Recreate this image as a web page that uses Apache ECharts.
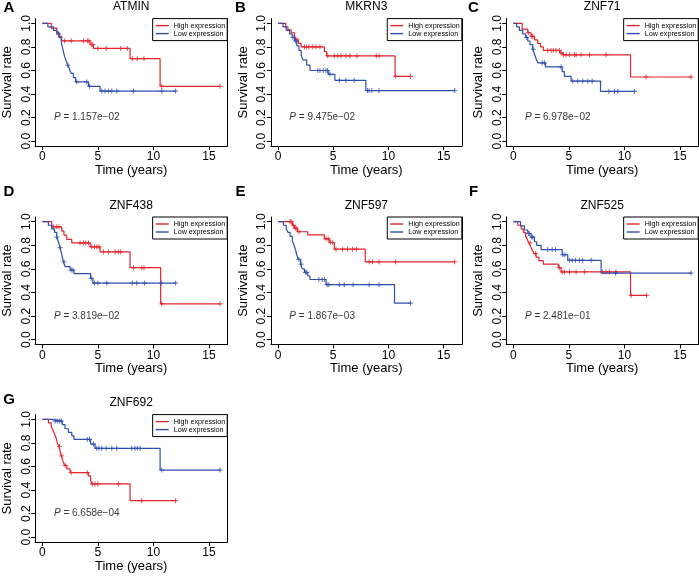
<!DOCTYPE html>
<html><head><meta charset="utf-8">
<script src="https://cdn.jsdelivr.net/npm/echarts@6/dist/echarts.min.js"></script>
<style>html,body{margin:0;padding:0;background:#fff}#c{width:699px;height:576px}</style>
</head><body><div id="c"></div><script>
const FONT = '"Liberation Sans", Arial, Helvetica, sans-serif';
const panelLetters = ['A','B','C','D','E','F','G'];
const geneNames = ['ATMIN','MKRN3','ZNF71','ZNF438','ZNF597','ZNF525','ZNF692'];
const pValues = ['1.157e\u221202','9.475e\u221202','6.978e\u221202','3.819e\u221202','1.867e\u221203','2.481e\u221201','6.658e\u221204'];
const seriesNames = ['High expression','Low expression'];
const xTickValues = [0,5,10,15];
const yTickValues = [0,0.2,0.4,0.6,0.8,1.0];
const pLabelPos = [4, 0.2];

// ATMIN
const atminHighTime = [0,0.8,1.3,1.5,1.75,4.3,4.6,7.9,10.6,16];
const atminHighSurv = [1,0.96,0.925,0.89,0.852,0.82,0.787,0.70,0.466,0.466];
const atminHighCensor = [2.0,2.6,3.7,4.05,4.2,4.45,4.55,5.0,5.75,7.05,7.65,8.1,8.55,9.15,10.75,16];
const atminLowTime = [0,0.5,1.0,1.3,1.5,1.7,1.8,1.9,2.0,2.15,2.3,2.45,2.6,2.8,3.0,4.15,5.2,12];
const atminLowSurv = [1,0.97,0.94,0.91,0.88,0.84,0.80,0.76,0.72,0.68,0.645,0.61,0.575,0.54,0.503,0.466,0.426,0.426];
const atminLowCensor = [1.45,2.3,3.1,4.0,4.25,5.35,5.65,5.95,6.25,6.7,8.2,10.75,12];
// MKRN3
const mkrn3HighTime = [0,0.7,0.9,1.2,1.5,1.65,1.85,2.1,4.2,4.4,10.6,12];
const mkrn3HighSurv = [1,0.97,0.945,0.92,0.89,0.86,0.83,0.80,0.76,0.724,0.55,0.55];
const mkrn3HighCensor = [1.7,2.4,2.6,2.8,3.15,3.45,3.8,4.5,5.1,5.4,5.7,6.15,6.5,7.15,8.9,9.15,10.65,12];
const mkrn3LowTime = [0,0.45,0.75,1.05,1.3,1.5,1.7,1.9,2.1,2.25,2.6,2.9,4.55,5.15,7.95,16];
const mkrn3LowSurv = [1,0.97,0.94,0.91,0.88,0.85,0.81,0.77,0.73,0.69,0.645,0.60,0.568,0.517,0.43,0.43];
const mkrn3LowCensor = [1.35,1.6,3.6,3.8,4.1,4.35,4.5,4.7,5.55,6.15,6.9,8.1,8.25,8.5,9.15,16];
// ZNF71
const znf71HighTime = [0,0.8,1.3,1.6,1.9,2.2,2.45,2.7,4.2,4.45,10.55,16];
const znf71HighSurv = [1,0.95,0.92,0.89,0.86,0.83,0.80,0.77,0.75,0.733,0.545,0.545];
const znf71HighCensor = [1.35,1.65,1.75,3.1,3.4,3.6,3.85,4.15,4.3,4.5,4.75,5.05,5.5,5.65,6.1,6.85,8.35,11.95,16];
const znf71LowTime = [0,0.3,0.55,0.85,1.1,1.3,1.5,1.75,1.9,2.05,2.2,2.9,4.4,4.6,5.2,7.85,10.9];
const znf71LowSurv = [1,0.97,0.94,0.91,0.88,0.85,0.82,0.78,0.74,0.70,0.665,0.63,0.59,0.55,0.51,0.423,0.423];
const znf71LowCensor = [1.2,1.8,2.6,2.8,4.3,5.35,5.8,6.25,6.7,7.1,8.6,9.1,9.4,10.9];
// ZNF438
const znf438HighTime = [0,0.85,1.75,1.95,2.2,2.65,4.3,5.2,7.9,10.65,16];
const znf438HighSurv = [1,0.957,0.92,0.886,0.85,0.82,0.787,0.744,0.61,0.304,0.304];
const znf438HighCensor = [1.0,1.3,1.5,3.4,3.7,3.9,4.15,4.45,4.7,4.9,5.1,5.5,5.95,6.55,6.85,7.05,8.2,8.95,9.15,10.75,16];
const znf438LowTime = [0,0.55,0.85,1.1,1.3,1.45,1.6,1.7,1.8,1.9,2.05,2.5,2.85,4.35,4.55,12];
const znf438LowSurv = [1,0.97,0.94,0.91,0.87,0.83,0.78,0.74,0.70,0.66,0.62,0.59,0.56,0.52,0.48,0.48];
const znf438LowCensor = [1.3,1.6,1.95,2.6,2.75,4.4,4.7,5.0,5.8,8.1,8.5,9.2,10.7,12];
// ZNF597
const znf597HighTime = [0,1.3,1.5,1.75,2.7,4.2,4.65,5.1,7.9,16];
const znf597HighSurv = [1,0.97,0.945,0.915,0.888,0.855,0.824,0.767,0.66,0.66];
const znf597HighCensor = [1.1,1.2,1.4,1.55,1.65,1.9,4.35,4.55,4.75,4.95,5.25,5.85,6.3,6.75,7.1,8.25,8.55,9.15,10.65,16];
const znf597LowTime = [0,0.5,0.75,0.9,1.1,1.3,1.45,1.6,1.7,1.85,2.05,2.2,2.4,2.7,2.9,4.35,10.55,12];
const znf597LowSurv = [1,0.97,0.94,0.91,0.875,0.84,0.80,0.76,0.72,0.68,0.64,0.60,0.57,0.54,0.51,0.466,0.31,0.31];
const znf597LowCensor = [1.9,2.1,2.5,2.6,3.7,4.0,4.2,4.45,4.6,5.55,6.0,6.8,8.25,9.15,12];
// ZNF525
const znf525HighTime = [0,0.4,0.7,0.9,1.1,1.25,1.4,1.55,1.7,1.85,2.05,2.3,2.7,4.05,4.3,10.55,12];
const znf525HighSurv = [1,0.97,0.94,0.91,0.88,0.85,0.82,0.79,0.76,0.73,0.70,0.67,0.64,0.61,0.574,0.375,0.375];
const znf525HighCensor = [1.5,2.0,4.15,4.4,4.6,5.05,5.65,6.4,8.05,8.35,8.65,9.25,10.6,12];
const znf525LowTime = [0,0.65,1.0,1.3,1.6,1.9,2.1,2.5,4.4,4.9,7.9,16];
const znf525LowSurv = [1,0.965,0.93,0.90,0.87,0.83,0.80,0.764,0.72,0.673,0.565,0.565];
const znf525LowCensor = [1.35,1.45,1.65,1.75,3.1,3.5,3.8,4.45,4.65,5.05,5.3,5.6,5.95,6.25,7.0,9.2,16];
// ZNF692
const znf692HighTime = [0,0.55,0.8,0.95,1.1,1.25,1.35,1.5,1.6,1.7,1.85,2.0,2.2,2.5,4.15,4.35,4.45,7.9,12];
const znf692HighSurv = [1,0.97,0.94,0.91,0.875,0.84,0.80,0.77,0.73,0.69,0.65,0.61,0.58,0.548,0.52,0.484,0.452,0.31,0.31];
const znf692HighCensor = [1.55,1.75,2.05,2.6,4.05,4.5,4.75,5.0,6.85,8.95,12];
const znf692LowTime = [0,0.9,1.8,2.05,2.35,2.65,2.85,4.35,4.75,10.6,16];
const znf692LowSurv = [1,0.985,0.955,0.92,0.89,0.86,0.83,0.79,0.754,0.57,0.57];
const znf692LowCensor = [1.15,1.35,1.55,1.7,4.05,4.25,4.6,4.9,5.1,5.35,5.75,6.25,6.7,8.05,8.35,8.55,8.8,10.75,16];

const panels = [
  [[atminHighTime,atminHighSurv,atminHighCensor],[atminLowTime,atminLowSurv,atminLowCensor]],
  [[mkrn3HighTime,mkrn3HighSurv,mkrn3HighCensor],[mkrn3LowTime,mkrn3LowSurv,mkrn3LowCensor]],
  [[znf71HighTime,znf71HighSurv,znf71HighCensor],[znf71LowTime,znf71LowSurv,znf71LowCensor]],
  [[znf438HighTime,znf438HighSurv,znf438HighCensor],[znf438LowTime,znf438LowSurv,znf438LowCensor]],
  [[znf597HighTime,znf597HighSurv,znf597HighCensor],[znf597LowTime,znf597LowSurv,znf597LowCensor]],
  [[znf525HighTime,znf525HighSurv,znf525HighCensor],[znf525LowTime,znf525LowSurv,znf525LowCensor]],
  [[znf692HighTime,znf692HighSurv,znf692HighCensor],[znf692LowTime,znf692LowSurv,znf692LowCensor]]
];

// layout (pixels)
const W = 699;
const colLeft = [35.2, 270.9, 506.2];
const colWidth = [192, 190.9, 192];
const rowTop = [18.6, 217, 414.6];
const plotH = 127.4;
const letterX = [9, 240.5, 473.5];
const letterY = [8, 191.5, 400];
const colors = ['#E2252D', '#2E4FAE'];

function survAt(times, surv, t) {
  let s = surv[0];
  for (let k = 0; k < times.length; k++) { if (times[k] <= t) s = surv[k]; }
  return s;
}

const grids = [], xAxes = [], yAxes = [], series = [], legends = [], graphics = [];
const axisLineStyle = {color:'#000', width:1};
panels.forEach((p, i) => {
  const col = i % 3, row = Math.floor(i / 3);
  grids.push({left: colLeft[col], top: rowTop[row], width: colWidth[col], height: plotH, containLabel:false});
  xAxes.push({
    type:'value', gridIndex:i, min:-0.64, max:16.64,
    name:'Time (years)', nameLocation:'middle', nameGap:18,
    nameTextStyle:{fontSize:13, color:'#000', fontFamily:FONT},
    axisLine:{show:true, onZero:false, lineStyle:axisLineStyle},
    axisTick:{show:true, customValues:xTickValues, length:4, lineStyle:axisLineStyle},
    axisLabel:{customValues:xTickValues, fontSize:12, color:'#000', margin:5, fontFamily:FONT},
    splitLine:{show:false}
  });
  yAxes.push({
    type:'value', gridIndex:i, min:-0.04, max:1.04, position:'left',
    name:'Survival rate', nameLocation:'middle', nameGap:21,
    nameTextStyle:{fontSize:13, color:'#000', fontFamily:FONT},
    axisLine:{show:true, onZero:false, lineStyle:axisLineStyle},
    axisTick:{show:true, customValues:yTickValues, length:4, lineStyle:axisLineStyle},
    axisLabel:{customValues:yTickValues, rotate:90, fontSize:12, color:'#000', margin:3, fontFamily:FONT,
               formatter:(v)=>Number(v).toFixed(1)},
    splitLine:{show:false}
  });
  yAxes.push({
    type:'value', gridIndex:i, min:-0.04, max:1.04, position:'right',
    axisLine:{show:true, onZero:false, lineStyle:axisLineStyle},
    axisTick:{show:false}, axisLabel:{show:false}, splitLine:{show:false}
  });
  p.forEach((g, j) => {
    const [times, surv, cens] = g;
    series.push({
      type:'line', name:seriesNames[j], xAxisIndex:i, yAxisIndex:2*i,
      step:'end', symbol:'none', showSymbol:false, silent:true, animation:false,
      lineStyle:{color:colors[j], width:1.2}, itemStyle:{color:colors[j]},
      data: times.map((t,k)=>[t, surv[k]]), z:2+j
    });
    series.push({
      type:'scatter', name:seriesNames[j] + ' censored', xAxisIndex:i, yAxisIndex:2*i,
      symbol:'path://M0,5L10,5M5,0L5,10', symbolSize:5, silent:true, animation:false,
      itemStyle:{color:'none', borderColor:colors[j], borderWidth:1},
      data: cens.map(t=>[t, survAt(times, surv, t)]), z:2+j
    });
  });
  series.push({
    type:'scatter', name:'p'+i, xAxisIndex:i, yAxisIndex:2*i, silent:true, animation:false,
    symbol:'circle', symbolSize:1, itemStyle:{color:'rgba(0,0,0,0)'},
    label:{show:true, position:'inside', color:'#000', fontSize:10, fontFamily:FONT,
      formatter:'{i|P} = ' + pValues[i],
      rich:{i:{fontStyle:'italic', fontSize:10, color:'#000', fontFamily:FONT}}},
    data:[pLabelPos]
  });
  legends.push({
    data: seriesNames, orient:'vertical', selectedMode:false, icon:'rect',
    right: W - (colLeft[col] + colWidth[col]), top: rowTop[row],
    itemWidth:13, itemHeight:1.4, itemGap:0, padding:[3,2,3,3],
    borderColor:'#000', borderWidth:1, backgroundColor:'#fff',
    textStyle:{fontSize:7.2, color:'#000', fontFamily:FONT, lineHeight:8}
  });
  graphics.push({type:'text', x: colLeft[col] + colWidth[col]/2, y: rowTop[row] - 11.5,
    style:{text: geneNames[i], fill:'#000', font:'12px ' + FONT, textAlign:'center', textVerticalAlign:'middle'}});
  graphics.push({type:'text', x: letterX[col], y: letterY[row],
    style:{text: panelLetters[i], fill:'#000', font:'bold 15px ' + FONT, textAlign:'center', textVerticalAlign:'middle'}});
});

const chart = echarts.init(document.getElementById('c'), null, {renderer:'canvas'});
chart.setOption({
  animation:false,
  backgroundColor:'#fff',
  grid: grids, xAxis: xAxes, yAxis: yAxes, series: series, legend: legends,
  graphic: graphics
});
</script></body></html>
